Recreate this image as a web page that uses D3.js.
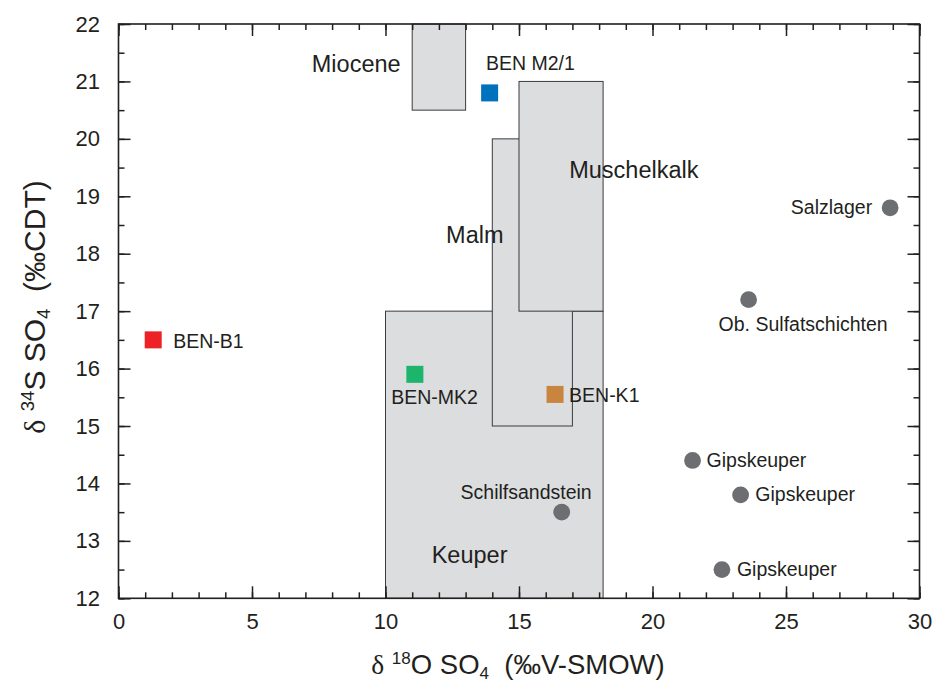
<!DOCTYPE html>
<html>
<head>
<meta charset="utf-8">
<script src="https://cdn.jsdelivr.net/npm/d3@7"></script>
<style>
  html, body { margin: 0; padding: 0; background: #fff; }
  svg text { font-family: "Liberation Sans", Arial, sans-serif; fill: #231f20; white-space: pre; }
</style>
</head>
<body>
<svg id="chart" width="936" height="685"></svg>
<script>
// Stratigraphic reference fields (δ18O range, δ34S range), drawn in this order
const fieldNames = ["Keuper", "Malm", "Muschelkalk", "Miocene"];
const fieldO18Min = [10, 14, 15, 11];
const fieldO18Max = [18.15, 17, 18.15, 13];
const fieldS34Min = [12, 15, 17, 20.5];
const fieldS34Max = [17, 20, 21, 22];

// Water samples (squares)
const sampleNames = ["BEN-B1", "BEN M2/1", "BEN-MK2", "BEN-K1"];
const sampleO18 = [1.3, 13.9, 11.1, 16.35];
const sampleS34 = [16.5, 20.8, 15.9, 15.55];

// Literature evaporite values (circles)
const refNames = ["Schilfsandstein", "Salzlager", "Ob. Sulfatschichten", "Gipskeuper", "Gipskeuper", "Gipskeuper"];
const refO18 = [16.6, 28.9, 23.6, 21.5, 23.3, 22.6];
const refS34 = [13.5, 18.8, 17.2, 14.4, 13.8, 12.5];

// Axis ticks
const xTicks = [0, 5, 10, 15, 20, 25, 30];
const yTicks = [12, 13, 14, 15, 16, 17, 18, 19, 20, 21, 22];

// ---- styling and layout ----
const sampleColors = ["#ec2227", "#0071bd", "#1db46b", "#c9853f"];
const refColor = "#6d6e71";
const fieldFill = "#dcdddf";
const fieldStroke = "#3b3b3d";

// label placement for each field: anchor point in axis units
const fieldLabelPos = [[11.73, 12.62], [12.27, 18.18], [16.88, 19.32], [7.24, 21.16]];
// label offsets (px) relative to the marker centre
const sampleLabelOffsets = [[20, 8, "start"], [-3.6, -23.3, "start"], [-23.6, 30, "start"], [14, 7.4, "start"]];
const refLabelOffsets = [[30, -13, "end"], [-18, 6, "end"], [-30, 31, "start"], [14, 6.7, "start"], [14.7, 6, "start"], [15, 6.7, "start"]];

const margin = { left: 118.5, top: 24 };
const width = 801, height = 574.3;

const svg = d3.select("#chart");
const g = svg.append("g").attr("transform", `translate(${margin.left},${margin.top})`);

const x = d3.scaleLinear().domain([0, 30]).range([0, width]);
const y = d3.scaleLinear().domain([12, 22]).range([height, 0]);

// reference fields
g.selectAll("rect.field")
  .data(fieldNames.map((n, i) => ({ n, i })))
  .join("rect")
  .attr("class", "field")
  .attr("x", d => x(fieldO18Min[d.i]))
  .attr("y", d => y(fieldS34Max[d.i]))
  .attr("width", d => x(fieldO18Max[d.i]) - x(fieldO18Min[d.i]))
  .attr("height", d => y(fieldS34Min[d.i]) - y(fieldS34Max[d.i]))
  .attr("fill", fieldFill)
  .attr("stroke", fieldStroke)
  .attr("stroke-width", 1);

g.selectAll("text.field-label")
  .data(fieldNames.map((n, i) => ({ n, i })))
  .join("text")
  .attr("class", "field-label")
  .attr("x", d => x(fieldLabelPos[d.i][0]))
  .attr("y", d => y(fieldLabelPos[d.i][1]))
  .attr("font-size", 23.5)
  .text(d => d.n);

// axes: ticks point inward on all four sides
const axisColor = "#231f20";
function styleAxis(sel) {
  sel.select(".domain").remove();
  sel.selectAll(".tick line").attr("stroke", axisColor).attr("stroke-width", 1.5);
}
const minorX = d3.range(0, 31, 1);
const minorY = d3.range(12, 22.01, 0.5);

const xMajor = g.append("g").attr("transform", `translate(0,${height})`)
  .call(d3.axisBottom(x).tickValues(xTicks).tickSize(-12).tickPadding(22).tickFormat(d3.format("d")));
styleAxis(xMajor);
xMajor.selectAll("text").attr("font-size", 22).attr("font-family", "Liberation Sans, Arial, sans-serif").attr("fill", axisColor).attr("dy", "0.71em").attr("y", 15);
g.append("g").attr("transform", `translate(0,${height})`)
  .call(d3.axisBottom(x).tickValues(minorX).tickSize(-6).tickFormat("")).call(styleAxis);

const yMajor = g.append("g")
  .call(d3.axisLeft(y).tickValues(yTicks).tickSize(-12).tickPadding(18).tickFormat(d3.format("d")));
styleAxis(yMajor);
yMajor.selectAll("text").attr("font-size", 22).attr("font-family", "Liberation Sans, Arial, sans-serif").attr("fill", axisColor).attr("x", -18.5);
g.append("g")
  .call(d3.axisLeft(y).tickValues(minorY).tickSize(-6).tickFormat("")).call(styleAxis);

g.append("g").call(d3.axisTop(x).tickValues(xTicks).tickSize(-12).tickFormat("")).call(styleAxis);
g.append("g").call(d3.axisTop(x).tickValues(minorX).tickSize(-6).tickFormat("")).call(styleAxis);
g.append("g").attr("transform", `translate(${width},0)`)
  .call(d3.axisRight(y).tickValues(yTicks).tickSize(-12).tickFormat("")).call(styleAxis);
g.append("g").attr("transform", `translate(${width},0)`)
  .call(d3.axisRight(y).tickValues(minorY).tickSize(-6).tickFormat("")).call(styleAxis);

// frame
g.append("rect")
  .attr("x", 0).attr("y", 0).attr("width", width).attr("height", height)
  .attr("fill", "none").attr("stroke", axisColor).attr("stroke-width", 1.6);

// literature values
const refs = refNames.map((n, i) => ({ n, i, o: refO18[i], s: refS34[i] }));
g.selectAll("circle.ref")
  .data(refs)
  .join("circle")
  .attr("class", "ref")
  .attr("cx", d => x(d.o))
  .attr("cy", d => y(d.s))
  .attr("r", 8.4)
  .attr("fill", refColor);

g.selectAll("text.ref-label")
  .data(refs)
  .join("text")
  .attr("class", "ref-label")
  .attr("x", d => x(d.o) + refLabelOffsets[d.i][0])
  .attr("y", d => y(d.s) + refLabelOffsets[d.i][1])
  .attr("text-anchor", d => refLabelOffsets[d.i][2])
  .attr("font-size", 19.5)
  .text(d => d.n);

// samples
const samples = sampleNames.map((n, i) => ({ n, i, o: sampleO18[i], s: sampleS34[i] }));
const side = 17;
g.selectAll("rect.sample")
  .data(samples)
  .join("rect")
  .attr("class", "sample")
  .attr("x", d => x(d.o) - side / 2)
  .attr("y", d => y(d.s) - side / 2)
  .attr("width", side)
  .attr("height", side)
  .attr("fill", d => sampleColors[d.i]);

g.selectAll("text.sample-label")
  .data(samples)
  .join("text")
  .attr("class", "sample-label")
  .attr("x", d => x(d.o) + sampleLabelOffsets[d.i][0])
  .attr("y", d => y(d.s) + sampleLabelOffsets[d.i][1])
  .attr("text-anchor", d => sampleLabelOffsets[d.i][2])
  .attr("font-size", 19.5)
  .text(d => d.n);

// axis titles with isotope superscripts and sulfate subscript
function isoTitle(sel, mass, element, unit, size) {
  const small = size * 0.62, up = size * 0.38, down = size * 0.18;
  sel.append("tspan").attr("font-family", "Liberation Serif, serif").text("δ");
  sel.append("tspan").text(" ");
  sel.append("tspan").attr("font-size", small).attr("dy", -up).text(mass);
  sel.append("tspan").attr("dy", up).text(element + " SO");
  sel.append("tspan").attr("font-size", small).attr("dy", down).text("4");
  sel.append("tspan").attr("dy", -down).text("  " + unit);
}

svg.append("text")
  .attr("x", 518).attr("y", 674)
  .attr("text-anchor", "middle")
  .attr("font-size", 27.5)
  .call(isoTitle, "18", "O", "(‰V-SMOW)", 27.5);

svg.append("text")
  .attr("transform", "translate(45,307) rotate(-90)")
  .attr("text-anchor", "middle")
  .attr("font-size", 30)
  .call(isoTitle, "34", "S", "(‰CDT)", 30);
</script>
</body>
</html>
